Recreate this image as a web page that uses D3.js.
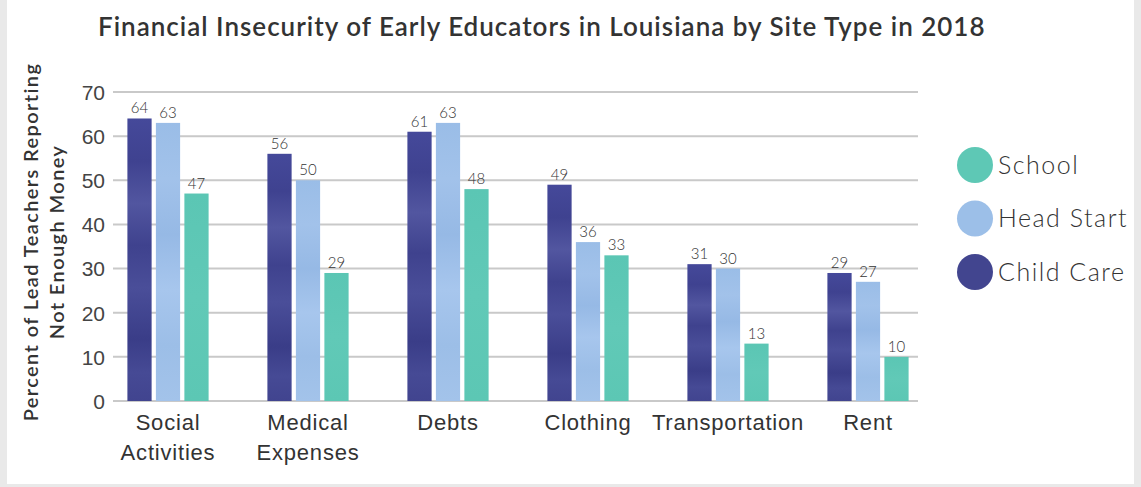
<!DOCTYPE html>
<html><head><meta charset="utf-8">
<script src="https://cdn.jsdelivr.net/npm/d3@7"></script>
<style>
html,body{margin:0;padding:0;background:#fff;}
svg{display:block;font-family:Lato, "Open Sans", sans-serif;}
</style></head>
<body>
<svg id="chart" width="1141" height="487"></svg>
<script>
const categories = [["Social","Activities"],["Medical","Expenses"],["Debts"],["Clothing"],["Transportation"],["Rent"]];
const seriesNames = ["Child Care","Head Start","School"];
const childCare = [64,56,61,49,31,29];
const headStart = [63,50,63,36,30,27];
const school = [47,29,48,33,13,10];
const yTicks = [0,10,20,30,40,50,60,70];
const legendOrder = ["School","Head Start","Child Care"];
const colors = {"Child Care":"#42458f","Head Start":"#9cbfe8","School":"#5ec8b5"};
const values = {"Child Care":childCare,"Head Start":headStart,"School":school};

const svg = d3.select("#chart");
// card frame
svg.append("rect").attr("x",0).attr("y",0).attr("width",1141).attr("height",487).attr("fill","#e9e9e9");
svg.append("rect").attr("x",7).attr("y",0).attr("width",1127).attr("height",484).attr("fill","#fff");

// gradients mimicking watercolor
const defs = svg.append("defs");
const gradStops = {
 "Child Care":[["0","#45499a"],["0.15","#3f4290"],["0.3","#5256a0"],["0.45","#3f428e"],["0.6","#4a4e99"],["0.78","#3a3d88"],["0.9","#464a95"],["1","#41448f"]],
 "Head Start":[["0","#9abde7"],["0.2","#a2c2ea"],["0.4","#96b9e5"],["0.6","#a7c6ed"],["0.8","#9cbee7"],["1","#a3c3ea"]],
 "School":[["0","#5bc6b4"],["0.5","#61c9b7"],["1","#5cc7b4"]]
};
seriesNames.forEach((s,i)=>{
  const g = defs.append("linearGradient").attr("id","g"+i).attr("x1",0).attr("y1",0).attr("x2",0).attr("y2",1);
  gradStops[s].forEach(st=>g.append("stop").attr("offset",st[0]).attr("stop-color",st[1]));
});

const y = d3.scaleLinear().domain([0,70]).range([401,92]);
const x0 = d3.scaleBand().domain(d3.range(categories.length)).range([98,938]).paddingInner(0.42).paddingOuter(0.21);
const x1 = d3.scaleBand().domain(seriesNames).range([0,x0.bandwidth()]).paddingInner(0.15);

// title
svg.append("text").attr("x",98).attr("y",36).attr("font-size",26).attr("font-weight",600)
  .attr("letter-spacing",1).attr("fill","#333").text("Financial Insecurity of Early Educators in Louisiana by Site Type in 2018");

// grid lines & y axis
const yAxis = d3.axisLeft(y).tickValues(yTicks).tickSize(0).tickPadding(0);
const gy = svg.append("g").attr("transform","translate(105,0)").call(yAxis);
gy.select(".domain").remove();
gy.selectAll("text").attr("font-size",21).attr("font-weight",300).attr("fill","#444").attr("dy","0.35em").attr("x",0);
svg.append("g").selectAll("line").data(yTicks).join("line")
  .attr("x1",113).attr("x2",918).attr("y1",d=>y(d)).attr("y2",d=>y(d))
  .attr("stroke","#c9c9c9").attr("stroke-width",2);

// bars
const groups = svg.append("g").selectAll("g").data(categories).join("g")
  .attr("transform",(d,i)=>`translate(${x0(i)},0)`);
seriesNames.forEach((s,si)=>{
  groups.append("rect")
    .attr("x",x1(s)).attr("width",x1.bandwidth())
    .attr("y",(d,i)=>y(values[s][i])).attr("height",(d,i)=>y(0)-y(values[s][i]))
    .attr("fill",`url(#g${si})`);
  groups.append("text")
    .attr("x",x1(s)+x1.bandwidth()/2).attr("y",(d,i)=>y(values[s][i])-5)
    .attr("text-anchor","middle").attr("font-size",15).attr("font-weight",300).attr("fill","#333")
    .text((d,i)=>values[s][i]);
});

// x labels
const xAxis = d3.axisBottom(x0).tickSize(0).tickFormat(()=> "");
const gx = svg.append("g").attr("transform",`translate(0,${y(0)})`).call(xAxis);
gx.select(".domain").remove();
gx.selectAll(".tick").each(function(d){
  const t = d3.select(this).append("text").attr("text-anchor","middle").attr("fill","#333")
    .attr("font-size",22).attr("font-weight",300).attr("letter-spacing",0.8);
  categories[d].forEach((line,li)=>t.append("tspan").attr("x",0).attr("y",29+li*30).text(line));
});

// y axis title
const yt = svg.append("text").attr("transform","translate(0,242) rotate(-90)").attr("text-anchor","middle")
  .attr("font-size",20).attr("font-weight",600).attr("letter-spacing",1.4).attr("fill","#333");
yt.append("tspan").attr("x",0).attr("y",38).text("Percent of Lead Teachers Reporting");
yt.append("tspan").attr("x",0).attr("y",64).text("Not Enough Money");

// legend
const lg = svg.append("g").selectAll("g").data(legendOrder).join("g")
  .attr("transform",(d,i)=>`translate(975,${165+i*53.5})`);
lg.append("circle").attr("r",18).attr("fill",d=>colors[d]);
lg.append("text").attr("x",23).attr("dy","0.35em").attr("font-size",25).attr("font-weight",300)
  .attr("letter-spacing",1.5).attr("fill","#333").text(d=>d);
</script>
</body></html>
